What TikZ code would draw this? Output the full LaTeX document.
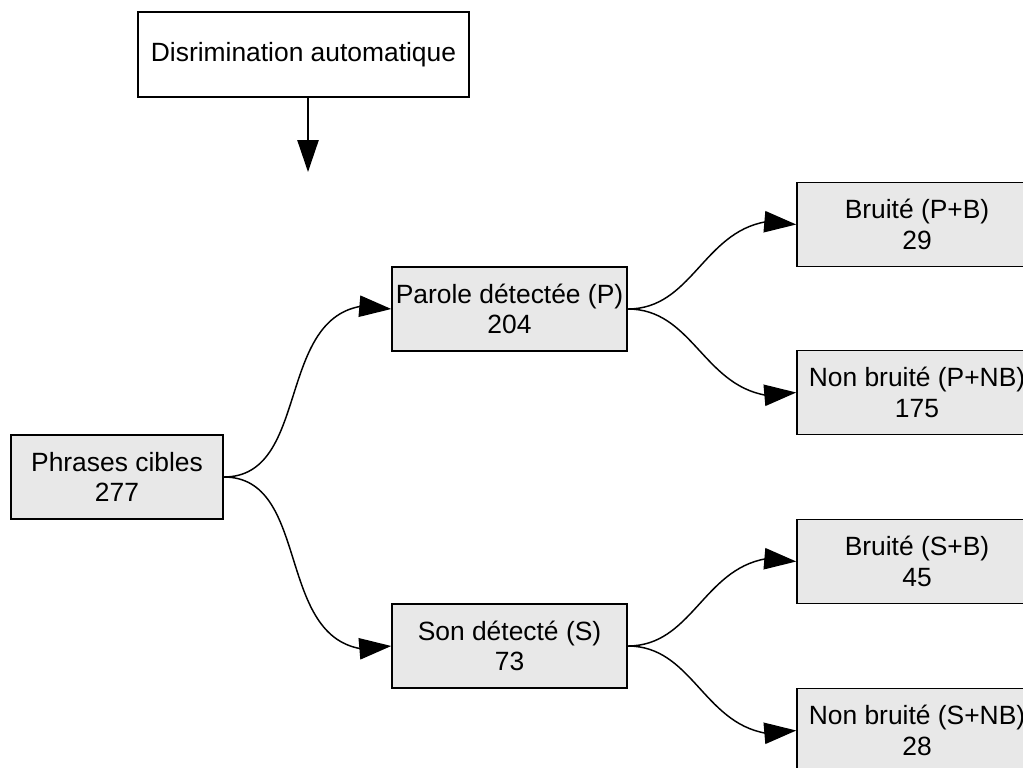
\documentclass[tikz,border=0pt]{standalone}
\usepackage{fontspec}
\setmainfont{Liberation Sans}
\usetikzlibrary{arrows.meta}
\begin{document}
\begin{tikzpicture}[x=0.75pt,y=-0.75pt,
  box/.style={draw=black, line width=1.1pt, fill=gray!18, align=center, inner sep=0pt,
    minimum height=63pt, font=\fontsize{19.8}{23}\selectfont},
  topbox/.style={box, fill=white},
  conn/.style={line width=1.1pt, -{Triangle[length=24pt,width=16pt]}}
]
\useasboundingbox (0,0) rectangle (1023,767);
\node[topbox, minimum width=248pt, minimum height=63.75pt] (top) at (303.5,54.5) {Disrimination automatique};
\coordinate (topend) at (308,172);
\node[box, minimum width=159pt] (root) at (117,477) {Phrases cibles\\277};
\node[box, minimum width=176.25pt] (par) at (509.5,309) {Parole détectée (P)\\204};
\node[box, minimum width=176.25pt] (son) at (509.5,646) {Son détecté (S)\\73};
\node[box, minimum width=180pt] (pb) at (917,224.5) {Bruité (P+B)\\29};
\node[box, minimum width=180pt] (pnb) at (917,392.5) {Non bruité (P+NB)\\175};
\node[box, minimum width=180pt] (sb) at (917,561.5) {Bruité (S+B)\\45};
\node[box, minimum width=180pt] (snb) at (917,730.5) {Non bruité (S+NB)\\28};
\draw[conn] (top.south -| topend) -- (topend);
\draw[conn] (root.east) to[out=0,in=190] ([xshift=-23pt,yshift=2pt]par.west) -- (par.west);
\draw[conn] (root.east) to[out=0,in=170] ([xshift=-23pt,yshift=-2pt]son.west) -- (son.west);
\draw[conn] (par.east) to[out=0,in=190] ([xshift=-23pt,yshift=2pt]pb.west) -- (pb.west);
\draw[conn] (par.east) to[out=0,in=170] ([xshift=-23pt,yshift=-2pt]pnb.west) -- (pnb.west);
\draw[conn] (son.east) to[out=0,in=190] ([xshift=-23pt,yshift=2pt]sb.west) -- (sb.west);
\draw[conn] (son.east) to[out=0,in=170] ([xshift=-23pt,yshift=-2pt]snb.west) -- (snb.west);
\end{tikzpicture}
\end{document}
